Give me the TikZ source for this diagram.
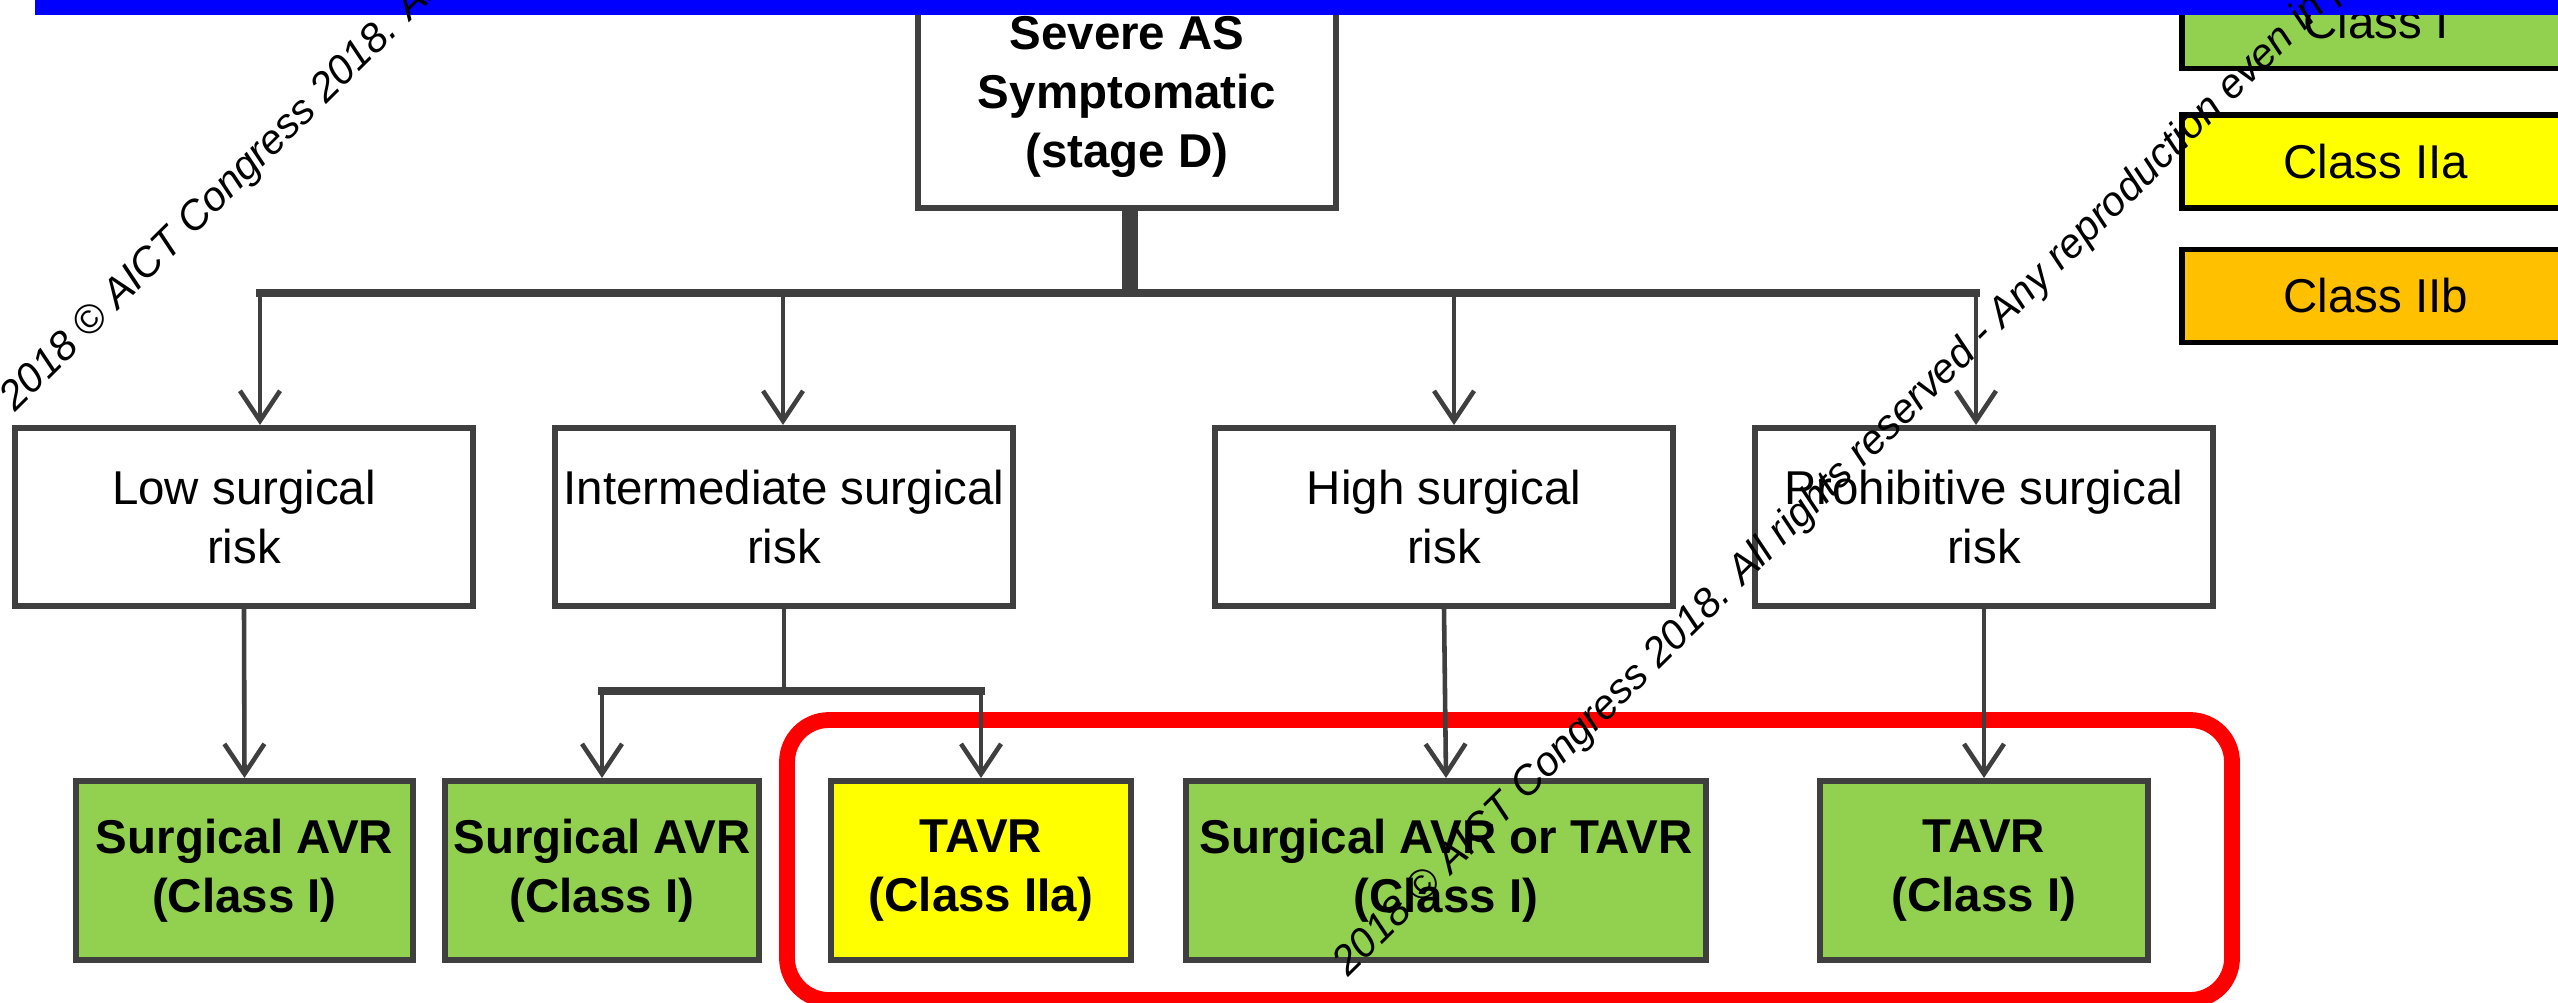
\documentclass[tikz,border=0pt]{standalone}
\usepackage{fontspec}
\setmainfont{Liberation Sans}
\usetikzlibrary{arrows.meta,calc}
\definecolor{linegray}{HTML}{3F3F3F}
\definecolor{classone}{HTML}{92D050}
\definecolor{classtwoa}{HTML}{FFFF00}
\definecolor{classtwob}{HTML}{FFC000}
\definecolor{barblue}{HTML}{0000FF}
\definecolor{markred}{HTML}{FF0000}

\begin{document}
\begin{tikzpicture}[x=0.01cm,y=-0.01cm,
    font=\fontsize{13.5}{16.8}\selectfont,
    box/.style={draw=linegray,line width=1.7pt,fill=white,align=center,inner sep=0pt},
    riskbox/.style={box,minimum width=4.58cm,minimum height=1.78cm},
    choice/.style={box,font=\fontsize{13.5}{16.8}\selectfont\bfseries,minimum height=1.79cm},
    legendbox/.style={draw=black,line width=1.6pt,inner sep=0pt,minimum width=3.88cm,minimum height=0.93cm},
    arr/.style={draw=linegray,line width=1.3pt,-{Straight Barb[length=0.3cm,width=0.4cm]}},
    bar/.style={draw=linegray,line width=2.3pt,line cap=rect},
    wmark/.style={anchor=base west,rotate=44.7,inner sep=0pt,font=\fontsize{11.7}{14}\selectfont\itshape}]
  \def\wmtext{2018 © AICT Congress 2018. All rights reserved - Any reproduction even in part is prohibited}
  \useasboundingbox (0,0) rectangle (2558,1002);
  \fill[white] (0,0) rectangle (2558,1002);
  % highlighted TAVR options
  \draw[markred,line width=4.5pt,rounded corners=0.42cm] (787,720) rectangle (2232,1000);

  \node[box,font=\fontsize{13.5}{16.8}\selectfont\bfseries,minimum width=4.17cm,minimum height=2.22cm] (sev) at (1127,97) {Severe AS\\Symptomatic\\(stage D)};

  \node[riskbox] (low)  at (244,517)  {Low surgical\\risk};
  \node[riskbox] (mid)  at (784,517)  {Intermediate surgical\\risk};
  \node[riskbox] (high) at (1444,517) {High surgical\\risk};
  \node[riskbox] (proh) at (1984,517) {Prohibitive surgical\\risk};

  \node[choice,fill=classone,minimum width=3.37cm]   (sav1)    at (244.5,870.5) {Surgical AVR\\(Class I)};
  \node[choice,fill=classone,minimum width=3.14cm]   (sav2)    at (602,870.5)   {Surgical AVR\\(Class I)};
  \node[choice,fill=classtwoa,minimum width=3.0cm]   (tavr2a)  at (981,870.5)   {TAVR\\(Class IIa)};
  \node[choice,fill=classone,minimum width=5.19cm]   (savtavr) at (1446,870.5)  {Surgical AVR or TAVR\\(Class I)};
  \node[choice,fill=classone,minimum width=3.28cm]   (tavr1)   at (1984,870.5)  {TAVR\\(Class I)};

  \coordinate (split) at (1130,293);
  \coordinate (b1) at (260,293);
  \coordinate (b2) at (783,293);
  \coordinate (b3) at (1454,293);
  \coordinate (b4) at (1976,293);
  \coordinate (fork) at (784,691);

  \draw[linegray,line width=4.3pt] (sev.south -| split) -- (split);
  \draw[bar] (b1) -- (b4);
  \foreach \b/\n in {b1/low,b2/mid,b3/high,b4/proh}
    \draw[arr] (\b) -- (\b |- \n.north);

  \draw[arr] (low.south) -- (sav1.north);
  \draw[linegray,line width=1.4pt] (mid.south) -- (fork);
  \draw[bar] (sav2.north |- fork) -- (tavr2a.north |- fork);
  \draw[arr] (sav2.north |- fork) -- (sav2.north);
  \draw[arr] (tavr2a.north |- fork) -- (tavr2a.north);
  \draw[arr] (high.south) -- (savtavr.north);
  \draw[arr] (proh.south) -- (tavr1.north);

  \node[legendbox,fill=classone]   (lgone)  at (2376,22)    {Class I};
  \node[legendbox,fill=classtwoa]  (lgtwoa) at (2376,161.5) {Class IIa};
  \node[legendbox,fill=classtwob]  (lgtwob) at (2376,296)   {Class IIb};

  \fill[barblue] (35,0) rectangle (2558,15);

  \node[wmark] (wm1) at (15,413)  {\wmtext};
  \node[wmark] (wm2) at (1348,978) {\wmtext};
\end{tikzpicture}
\end{document}
